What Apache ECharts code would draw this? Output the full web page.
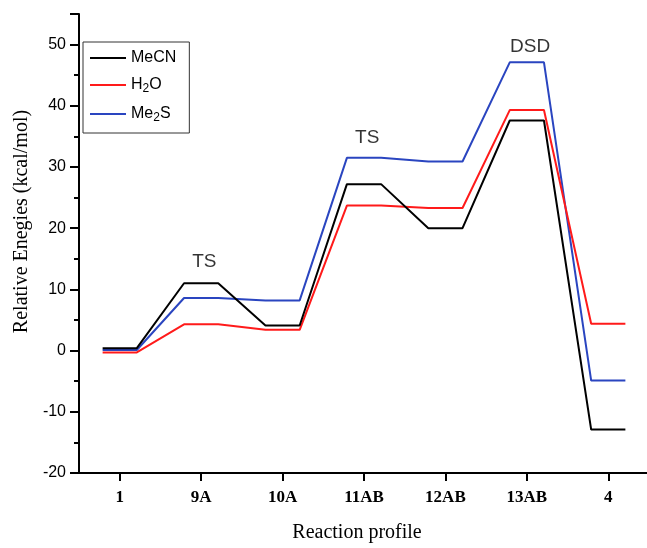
<!DOCTYPE html>
<html>
<head>
<meta charset="utf-8">
<script src="https://cdn.jsdelivr.net/npm/echarts@6/dist/echarts.min.js"></script>
<style>
  html, body { margin: 0; padding: 0; background: #fff; }
  #main { width: 647px; height: 548px; }
</style>
</head>
<body>
<div id="main"></div>
<script>
// 反应路径能量图
var states = ['1', '9A', '10A', '11AB', '12AB', '13AB', '4'];
var mecn = [0.4, 11.0, 4.1, 27.2, 20.0, 37.6, -12.9];
var h2o = [-0.3, 4.3, 3.4, 23.7, 23.3, 39.3, 4.4];
var me2s = [0.1, 8.6, 8.2, 31.5, 30.9, 47.1, -4.9];
var seriesNames = ['MeCN', 'H2O', 'Me2S'];
var seriesColors = ['#000000', '#ff1a1a', '#2a45c0'];
var annoText = ['TS', 'TS', 'DSD'];
var annoState = [1, 3, 5];
var annoY = [14.5, 34.8, 49.6];

var halfWidth = 0.21; // 每个能级横线的一半宽度（以类别间距为单位）

function levels(values) {
    var pts = [];
    for (var i = 0; i < values.length; i++) {
        pts.push([i - halfWidth, values[i]]);
        pts.push([i + halfWidth, values[i]]);
    }
    return pts;
}

var allValues = [mecn, h2o, me2s];
var series = [];
for (var s = 0; s < allValues.length; s++) {
    series.push({
        name: seriesNames[s],
        type: 'line',
        xAxisIndex: 1,
        yAxisIndex: 0,
        data: levels(allValues[s]),
        symbol: 'none',
        lineStyle: { color: seriesColors[s], width: 2 },
        itemStyle: { color: seriesColors[s] },
        z: 3 - s
    });
}

var annoData = [];
for (var a = 0; a < annoText.length; a++) {
    annoData.push({ name: annoText[a], value: [annoState[a] + 0.04, annoY[a]] });
}
series.push({
    type: 'scatter',
    xAxisIndex: 1,
    yAxisIndex: 0,
    symbolSize: 0,
    data: annoData,
    silent: true,
    label: {
        show: true,
        position: 'inside',
        formatter: '{b}',
        color: '#000',
        textBorderWidth: 0,
        fontFamily: 'Liberation Sans, Arial, sans-serif',
        fontSize: 19
    }
});

var legendNames = {
    'MeCN': 'MeCN',
    'H2O': 'H{sub|2}O',
    'Me2S': 'Me{sub|2}S'
};

var myChart = echarts.init(document.getElementById('main'));
var option = {
    animation: false,
    backgroundColor: '#fff',
    grid: {
        left: 79,
        right: -2,
        top: 14,
        bottom: 75,
        containLabel: false,
        outerBoundsMode: 'none'
    },
    legend: {
        orient: 'vertical',
        left: 83,
        top: 42,
        data: seriesNames,
        icon: 'rect',
        itemWidth: 36,
        itemHeight: 2,
        itemGap: 11,
        padding: [8, 13, 9, 7],
        borderColor: '#333',
        borderWidth: 1,
        formatter: function (name) { return legendNames[name]; },
        textStyle: {
            fontFamily: 'Liberation Sans, Arial, sans-serif',
            fontSize: 16,
            color: '#000',
            rich: {
                sub: {
                    fontFamily: 'Liberation Sans, Arial, sans-serif',
                    fontSize: 12,
                    color: '#000',
                    verticalAlign: 'bottom',
                    padding: [8, 0, 0, 0]
                }
            }
        }
    },
    xAxis: [{
        type: 'category',
        data: states,
        boundaryGap: true,
        name: 'Reaction profile',
        nameLocation: 'middle',
        nameGap: 50,
        nameTextStyle: {
            fontFamily: 'Liberation Serif, Times New Roman, serif',
            fontSize: 20,
            color: '#000',
            padding: [0, 14, 0, 0]
        },
        axisLine: { onZero: false, lineStyle: { color: '#000', width: 2 } },
        axisTick: { show: true, alignWithLabel: true, inside: false, length: 8, lineStyle: { color: '#000', width: 2 } },
        axisLabel: {
            margin: 16,
            fontFamily: 'Liberation Serif, Times New Roman, serif',
            fontWeight: 'bold',
            fontSize: 17,
            color: '#000'
        },
        splitLine: { show: false }
    }, {
        type: 'value',
        min: -0.5,
        max: 6.5,
        show: false
    }],
    yAxis: [{
        type: 'value',
        position: 'left',
        min: -20,
        max: 55,
        interval: 5,
        name: 'Relative Enegies (kcal/mol)',
        nameLocation: 'middle',
        nameRotate: 90,
        nameGap: 47,
        nameTextStyle: {
            fontFamily: 'Liberation Serif, Times New Roman, serif',
            fontSize: 20,
            color: '#000',
            padding: [0, 0, 0, 44]
        },
        axisLine: { show: true, onZero: false, lineStyle: { color: '#000', width: 2 } },
        axisTick: { show: true, inside: false, length: 5, lineStyle: { color: '#000', width: 2 } },
        axisLabel: {
            margin: 13,
            showMaxLabel: false,
            fontFamily: 'Liberation Sans, Arial, sans-serif',
            fontSize: 16,
            color: '#000',
            formatter: function (v) { return v % 10 === 0 ? String(v) : ''; }
        },
        splitLine: { show: false }
    }, {
        type: 'value',
        position: 'left',
        offset: 0,
        min: -20,
        max: 55,
        interval: 10,
        axisLine: { show: false, onZero: false },
        axisTick: { show: true, inside: false, length: 9, lineStyle: { color: '#000', width: 2 } },
        axisLabel: { show: false },
        splitLine: { show: false }
    }],
    series: series
};
myChart.setOption(option);
</script>
</body>
</html>
